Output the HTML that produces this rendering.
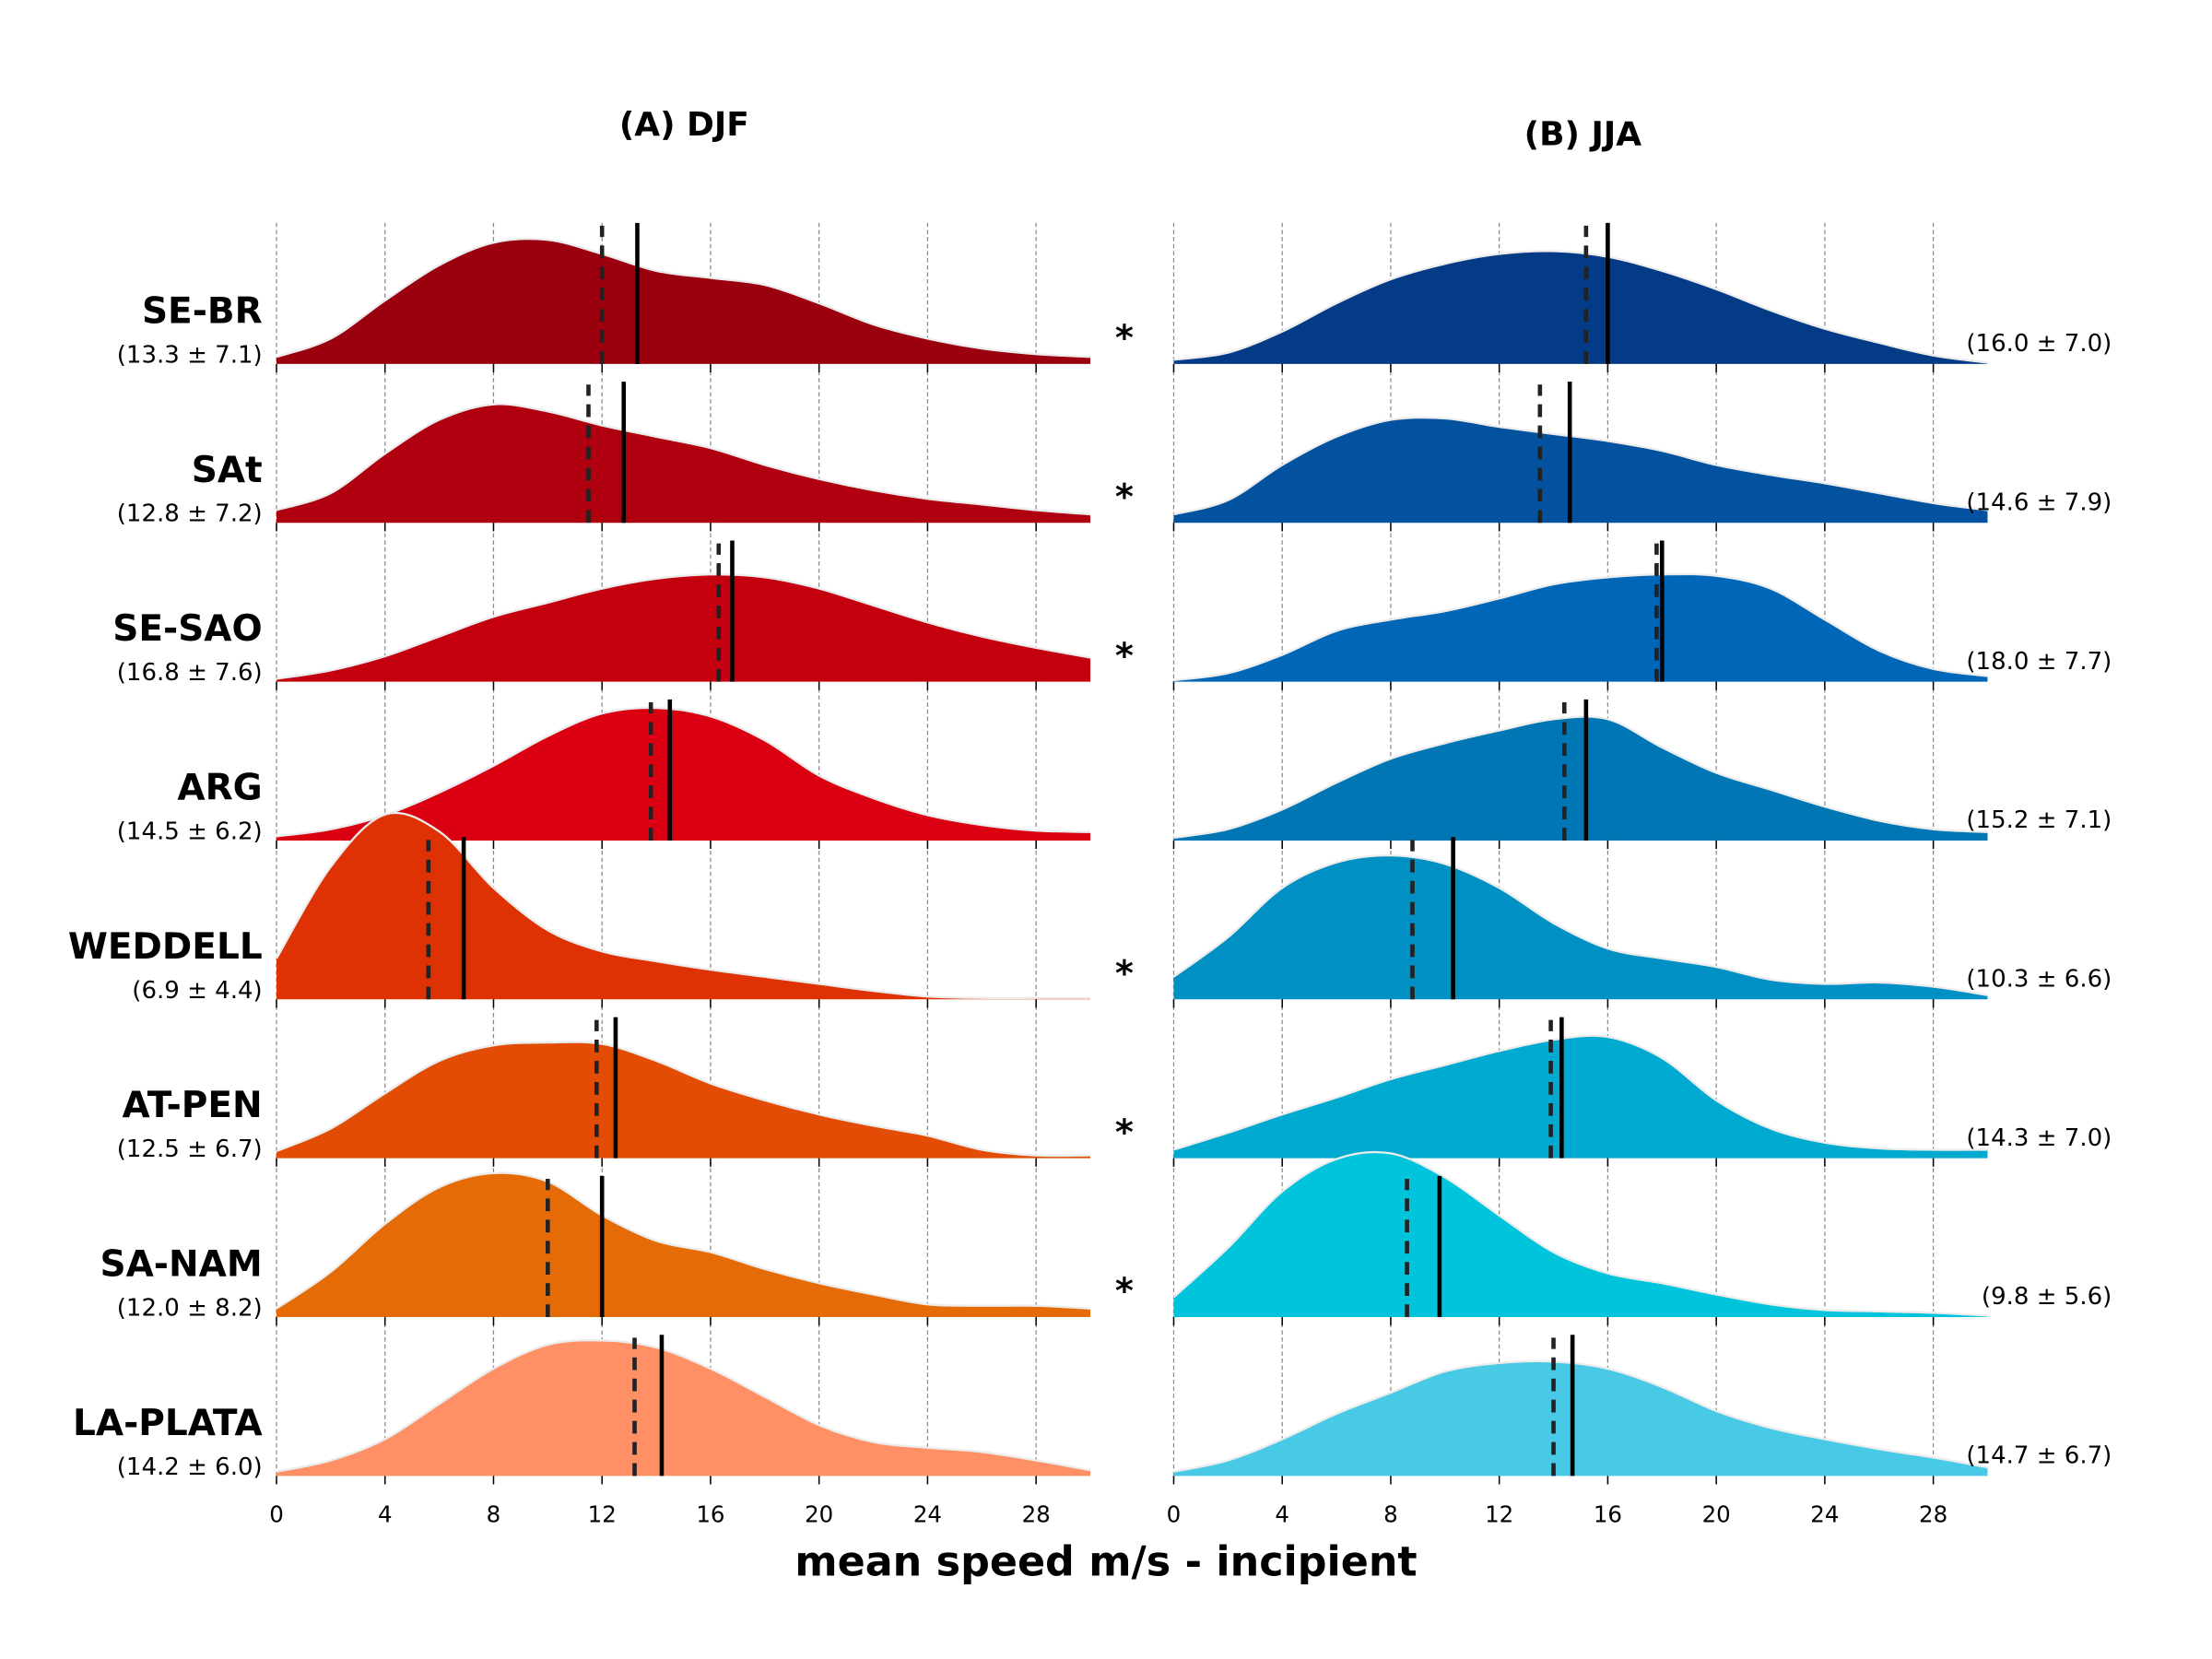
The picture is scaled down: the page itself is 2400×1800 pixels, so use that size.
<!DOCTYPE html>
<html><head><meta charset="utf-8"><style>
html,body{margin:0;padding:0;background:#fff}
svg{display:block}
text{font-family:"DejaVu Sans","Liberation Sans",sans-serif}
</style></head><body>
<svg id="chart" width="2400" height="1800" viewBox="0 0 1568 1176" preserveAspectRatio="none" xmlns="http://www.w3.org/2000/svg">
<g id="grid"></g>
<g id="rows"></g>
<g id="labels"></g>
<text x="485" y="96" text-anchor="middle" font-size="23.5" font-weight="bold">(A) DJF</text>
<text x="1122" y="103" text-anchor="middle" font-size="23.5" font-weight="bold">(B) JJA</text>
<text x="784" y="1117" text-anchor="middle" font-size="29" font-weight="bold">mean speed m/s - incipient</text>
</svg>
<script>
const regions = ["SE-BR","SAt","SE-SAO","ARG","WEDDELL","AT-PEN","SA-NAM","LA-PLATA"];
const gridX = [0,2,4,6,8,10,12,14,16,18,20,22,24,26,28,30];
const djfDensity = [
 [5,18,45,70,86,88,78,66,61,56,43,28,18,11,7,5],
 [9,21,49,73,84,79,69,61,53,41,31,23,17,13,9,6],
 [2,8,18,32,46,56,66,73,76,74,66,54,42,32,24,17],
 [3,8,18,34,53,74,90,94,88,71,46,30,18,11,7,6],
 [29,94,131,119,79,49,34,27,21,16,11,6,2,1,1,1],
 [5,21,46,69,80,82,81,69,53,41,31,23,16,6,2,2],
 [6,32,66,92,102,96,72,54,46,34,24,16,9,8,8,6],
 [3,11,26,51,76,93,96,91,76,56,36,24,20,17,11,4]];
const jjaDensity = [
 [3,8,23,43,60,71,78,80,76,66,53,38,25,15,6,1],
 [6,16,41,61,73,74,68,63,58,51,41,34,28,21,14,9],
 [1,6,19,36,44,50,59,69,74,76,75,66,44,22,9,4],
 [2,8,22,41,58,69,78,86,86,66,48,36,24,14,8,6],
 [16,44,79,97,102,96,79,54,36,29,23,14,11,12,9,3],
 [6,18,31,43,56,66,76,84,86,71,41,21,11,7,6,6],
 [14,49,89,112,116,99,72,46,31,24,16,9,5,4,3,1],
 [3,11,26,44,59,74,80,81,76,63,46,34,26,19,13,6]];
const djfMedian = [12.0,11.5,16.3,13.8,5.6,11.8,10.0,13.2];
const djfMean = [13.3,12.8,16.8,14.5,6.9,12.5,12.0,14.2];
const djfStd = [7.1,7.2,7.6,6.2,4.4,6.7,8.2,6.0];
const jjaMedian = [15.2,13.5,17.8,14.4,8.8,13.9,8.6,14.0];
const jjaMean = [16.0,14.6,18.0,15.2,10.3,14.3,9.8,14.7];
const jjaStd = [7.0,7.9,7.7,7.1,6.6,7.0,5.6,6.7];
const significant = [true,true,true,false,true,true,true,false];
const djfColors = ["#9a000d","#b0000f","#c4000f","#db0011","#de3204","#e24c05","#e56b06","#ff9066"];
const jjaColors = ["#033b87","#0352a0","#0066b7","#0077b4","#0090c4","#00a9cf","#00c4dc","#48c9e5"];
const xTicks = [0,4,8,12,16,20,24,28];

const NS="http://www.w3.org/2000/svg";
function mk(tag,attrs,parent){const e=document.createElementNS(NS,tag);for(const k in attrs)e.setAttribute(k,attrs[k]);parent.appendChild(e);return e;}
const panels=[{x0:196,dens:djfDensity,med:djfMedian,mean:djfMean,col:djfColors,name:"djf"},
              {x0:832,dens:jjaDensity,med:jjaMedian,mean:jjaMean,col:jjaColors,name:"jja"}];
const pxPerUnit=19.23;
function xs(p,v){return p.x0+v*pxPerUnit;}
function base(i){return 258+i*112.6;}
function ys(i,d){return base(i)-d;}
const grid=document.getElementById('grid'),rows=document.getElementById('rows'),labels=document.getElementById('labels');
panels.forEach(p=>{
  xTicks.forEach(t=>{
    const l=mk('line',{x1:xs(p,t),x2:xs(p,t),y1:158,y2:1046,stroke:'#888','stroke-width':0.8,'stroke-dasharray':'3,2'},grid);
    
    
    const tx=mk('text',{x:xs(p,t),y:1079,'text-anchor':'middle','font-size':16},labels);
    tx.textContent=t;
    
    
  });
});
function spline(pts){
  let d=`M${pts[0][0]},${pts[0][1]}`;
  for(let i=0;i<pts.length-1;i++){
    const p0=pts[Math.max(i-1,0)],p1=pts[i],p2=pts[i+1],p3=pts[Math.min(i+2,pts.length-1)];
    const c1=[p1[0]+(p2[0]-p0[0])/6,p1[1]+(p2[1]-p0[1])/6];
    const c2=[p2[0]-(p3[0]-p1[0])/6,p2[1]-(p3[1]-p1[1])/6];
    d+=` C${c1[0]},${c1[1]} ${c2[0]},${c2[1]} ${p2[0]},${p2[1]}`;
  }
  return d;
}
regions.forEach((r,i)=>{
  const g=mk('g',{},rows);
  
  
  panels.forEach(p=>{
    const pts=gridX.map((x,k)=>[xs(p,x),ys(i,p.dens[i][k])]);
    const curve=spline(pts);
    const b=base(i);
    const area=mk('path',{d:curve+` L${xs(p,30)},${b} L${xs(p,0)},${b} Z`,fill:p.col[i],stroke:'none'},g);
    
    
    const edge=mk('path',{d:curve,fill:'none',stroke:'#ececec','stroke-width':1.5},g);
    
    
    xTicks.forEach(t=>{
      const tk=mk('line',{x1:xs(p,t),x2:xs(p,t),y1:b,y2:b+6,stroke:'#000','stroke-width':1},g);
      
      
    });
    const h=(r==='WEDDELL')?115:100;
    const md=mk('line',{x1:xs(p,p.med[i]),x2:xs(p,p.med[i]),y1:b,y2:b-h+2,stroke:'#222','stroke-width':3,'stroke-dasharray':'9,6'},g);
    
    
    const mn=mk('line',{x1:xs(p,p.mean[i]),x2:xs(p,p.mean[i]),y1:b,y2:b-h,stroke:'#000','stroke-width':3},g);
    
    
  });
  const b=base(i);
  const nm=mk('text',{x:186,y:b-29,'text-anchor':'end','font-size':25.5,'font-weight':'bold'},labels);
  nm.textContent=r;
  
  
  const s1=mk('text',{x:186,y:b-1,'text-anchor':'end','font-size':17},labels);
  s1.textContent=`(${djfMean[i].toFixed(1)} ± ${djfStd[i].toFixed(1)})`;
  
  
  const s2=mk('text',{x:1497,y:b-9,'text-anchor':'end','font-size':17},labels);
  s2.textContent=`(${jjaMean[i].toFixed(1)} ± ${jjaStd[i].toFixed(1)})`;
  
  
  if(significant[i]){
    const st=mk('text',{x:797,y:b-10,'text-anchor':'middle','font-size':25,'font-weight':'bold'},labels);
    st.textContent='*';
    
    
  }
});
</script>
</body></html>
